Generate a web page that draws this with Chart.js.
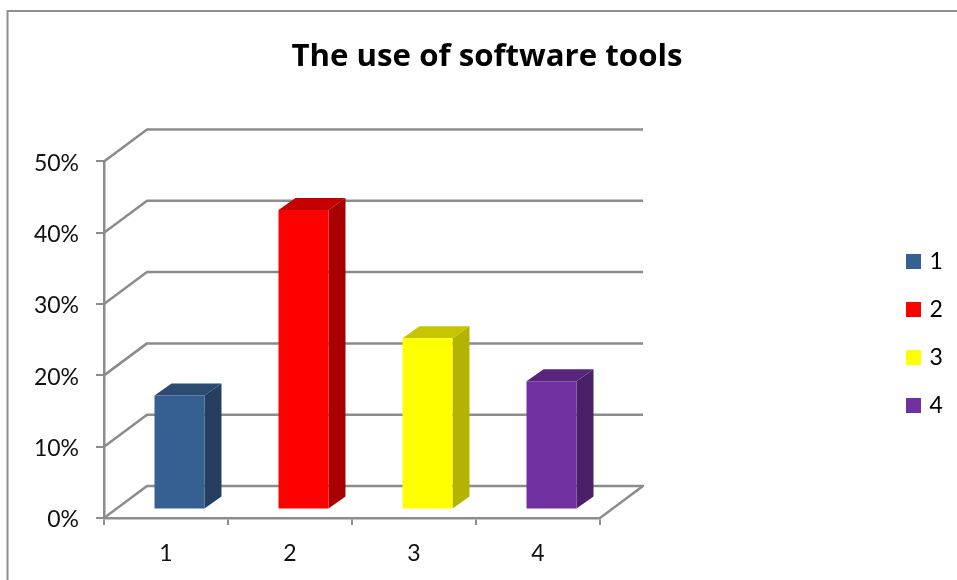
<!DOCTYPE html>
<html><head><meta charset="utf-8">
<style>html,body{margin:0;padding:0;background:#fff}canvas{display:block}</style>
<script src="https://cdn.jsdelivr.net/npm/chart.js@4"></script>
</head><body>
<canvas id="c" width="957" height="580"></canvas>
<script>
const titleText = "The use of software tools";
const categories = ["1", "2", "3", "4"];
const values = [16, 42, 24, 18];
const frontColors = ["#376092", "#ff0000", "#ffff00", "#7030a0"];
const sideColors = ["#243f60", "#a80000", "#b3b300", "#4a2069"];
const topColors = ["#2b4b72", "#c40000", "#c6c600", "#57267c"];

const GRAY = "#8c8c8c", TEXT = "#111111", FONT = "Lato";
const LEGEND_SIZE = 23, LEGEND_PAD = 25, LEGEND_BOX = 9, SWATCH = 15;
const WALL_DX = 43, WALL_DY = 32, BAR_DX = 13.5, BAR_DY = 8.5, DEPTH_DX = 17, DEPTH_DY = 12;

const mc = document.getElementById("c").getContext("2d");
mc.font = LEGEND_SIZE + "px " + FONT;
const legendW = LEGEND_PAD * 2 + LEGEND_BOX + LEGEND_SIZE / 2 +
  Math.max(...categories.map(t => mc.measureText(t).width));

function swatch(color) {
  const s = document.createElement("canvas");
  s.width = s.height = SWATCH;
  const g = s.getContext("2d");
  g.fillStyle = color;
  g.fillRect(0, 0, SWATCH, SWATCH);
  return s;
}

const scene = {
  id: "scene",
  beforeDraw(chart) {
    const c = chart.ctx;
    c.save();
    c.strokeStyle = "#909090"; c.lineWidth = 2;
    c.beginPath(); c.moveTo(7.5, chart.height); c.lineTo(7.5, 11); c.lineTo(chart.width, 11); c.stroke();
    c.restore();
  },
  afterLayout(chart) {
    chart.legend.left = 884; chart.legend.right = 884 + legendW;
    chart.legend.top = 225; chart.legend.bottom = 580;
    chart.titleBlock.left = 17; chart.titleBlock.right = chart.width;
  },
  beforeDatasetsDraw(chart) {
    const c = chart.ctx, y = chart.scales.y, a = chart.chartArea;
    c.save();
    c.strokeStyle = GRAY; c.lineWidth = 2.5; c.lineJoin = "round";
    y.ticks.forEach(t => {
      const py = y.getPixelForValue(t.value);
      c.beginPath();
      c.moveTo(a.left, py);
      c.lineTo(a.left + WALL_DX, py - WALL_DY);
      c.lineTo(a.right + WALL_DX, py - WALL_DY);
      if (t.value === 0) c.lineTo(a.right, py);
      c.stroke();
    });
    c.restore();
  },
  beforeDatasetDraw(chart, args) {
    const c = chart.ctx;
    c.save();
    c.translate(BAR_DX, -BAR_DY);
    chart.getDatasetMeta(args.index).data.forEach((b, i) => {
      const l = b.x - b.width / 2, r = b.x + b.width / 2;
      c.fillStyle = sideColors[i];
      c.beginPath();
      c.moveTo(r, b.y); c.lineTo(r + DEPTH_DX, b.y - DEPTH_DY);
      c.lineTo(r + DEPTH_DX, b.base - DEPTH_DY); c.lineTo(r, b.base);
      c.closePath(); c.fill();
      c.fillStyle = topColors[i];
      c.beginPath();
      c.moveTo(l, b.y); c.lineTo(l + DEPTH_DX, b.y - DEPTH_DY);
      c.lineTo(r + DEPTH_DX, b.y - DEPTH_DY); c.lineTo(r, b.y);
      c.closePath(); c.fill();
    });
  },
  afterDatasetDraw(chart) { chart.ctx.restore(); }
};

new Chart(document.getElementById("c"), {
  type: "bar",
  plugins: [scene],
  data: {
    labels: categories,
    datasets: [{
      data: values,
      backgroundColor: frontColors,
      borderWidth: 0,
      barPercentage: 0.403,
      categoryPercentage: 1
    }]
  },
  options: {
    responsive: false,
    animation: false,
    layout: { padding: { left: 0, top: 0, bottom: 0, right: 357 - legendW + 15 } },
    plugins: {
      tooltip: { enabled: false },
      title: {
        display: true, text: titleText, color: "#000",
        font: { family: "Open Sans", weight: "bold", size: 31.2, lineHeight: 1.2 },
        padding: { top: 38.5, bottom: 85.5 }
      },
      legend: {
        position: "right", align: "start",
        labels: {
          font: { family: FONT, size: LEGEND_SIZE }, color: TEXT,
          usePointStyle: true, pointStyleWidth: LEGEND_BOX, padding: LEGEND_PAD,
          generateLabels: () => categories.map((t, i) => ({
            text: t, pointStyle: swatch(frontColors[i]), lineWidth: 0, index: i
          }))
        }
      }
    },
    scales: {
      x: {
        afterFit(s) { s.height = 62; },
        grid: { drawOnChartArea: false, drawTicks: true, tickLength: 7, color: GRAY, lineWidth: 2 },
        border: { color: GRAY, width: 2.5 },
        ticks: { color: TEXT, font: { family: FONT, size: 23 }, padding: 15, maxRotation: 0 }
      },
      y: {
        min: 0, max: 50,
        afterFit(s) { s.width = 104; },
        grid: { drawOnChartArea: false, drawTicks: true, tickLength: 8, color: GRAY, lineWidth: 2 },
        border: { color: GRAY, width: 2.5 },
        ticks: {
          stepSize: 10, color: TEXT, font: { family: FONT, size: 23 }, padding: 17, labelOffset: 2,
          callback: v => v + "%"
        }
      }
    }
  }
});
</script>
</body></html>
